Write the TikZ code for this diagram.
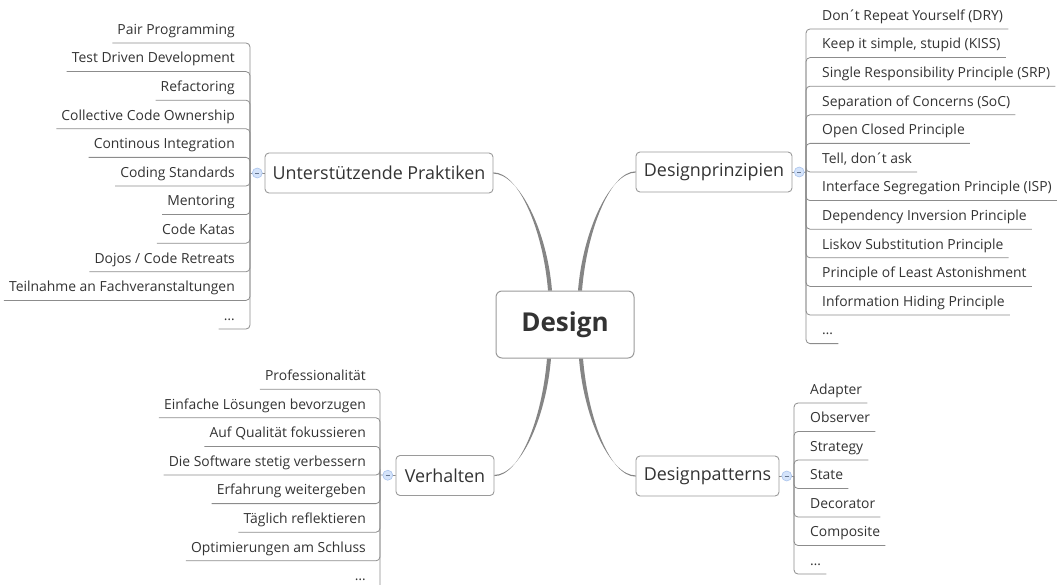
\documentclass[tikz,border=0pt]{standalone}
\usepackage{fontspec}
\setmainfont{Open Sans}
\usetikzlibrary{calc}
\definecolor{txt}{HTML}{333333}
\definecolor{ln}{HTML}{8C8C8C}
\definecolor{bx}{HTML}{9A9A9A}
\definecolor{cf}{HTML}{D4E3FA}
\definecolor{cd}{HTML}{A9C3EC}
\definecolor{cv}{HTML}{858585}
\newcommand\acc{\kern-1.2pt´\kern-1.2pt}
\begin{document}
\begin{tikzpicture}[x=1pt,y=-1pt,
  leafL/.style={anchor=south east, inner xsep=5pt, inner ysep=5.2pt, text height=10pt, text depth=3.3pt, font=\fontsize{13.9}{16}\selectfont, text=txt},
  leafR/.style={leafL, anchor=south west},
  branch/.style={draw=bx, rounded corners=4pt, line width=0.9pt, font=\fontsize{17.9}{21}\selectfont, text=txt, minimum height=40pt, inner sep=0pt},
  central/.style={draw=bx, rounded corners=6pt, line width=1pt, font=\fontsize{26}{29}\selectfont\bfseries, text=txt, minimum width=138pt, minimum height=67pt},
  link/.style={draw=ln, line width=0.8pt, rounded corners=4pt},
  hub/.style={circle, fill=cf, draw=cd, line width=0.6pt, minimum size=10pt, inner sep=0pt},
  hubmark/.style={draw=cd!60!black, line width=0.6pt},
  curve/.style={fill=cv}
]
\useasboundingbox (0,0) rectangle (1062,585);
\clip (0,0) rectangle (1062,585);

% central and branch nodes
\node[central] (d) at (565,324.5) {Design};
\node[branch, minimum width=228pt] (up) at (379,173) {Unterstützende Praktiken};
\node[branch, minimum width=156pt] (dp) at (714,172) {Designprinzipien};
\node[branch, minimum width=98pt] (vh) at (445,475.5) {Verhalten};
\node[branch, minimum width=143pt] (dpat) at (707.5,476) {Designpatterns};

% tapered curves from centre
\fill[curve] ($(d.north)+(-17,0)$) .. controls +(-5,-61) and +(25,0) .. ($(up.east)+(0,-0.6)$)
  -- ($(up.east)+(0,0.6)$) .. controls +(25,0) and +(-5,-61) .. ($(d.north)+(-13,0)$) -- cycle;
\fill[curve] ($(d.north)+(17,0)$) .. controls +(5,-61) and +(-25,0) .. ($(dp.west)+(0,-0.6)$)
  -- ($(dp.west)+(0,0.6)$) .. controls +(-25,0) and +(5,-61) .. ($(d.north)+(13,0)$) -- cycle;
\fill[curve] ($(d.south)+(-18,0)$) .. controls +(-5,61) and +(25,0) .. ($(vh.east)+(0,0.6)$)
  -- ($(vh.east)+(0,-0.6)$) .. controls +(25,0) and +(-5,61) .. ($(d.south)+(-14,0)$) -- cycle;
\fill[curve] ($(d.south)+(18,0)$) .. controls +(5,61) and +(-25,0) .. ($(dpat.west)+(0,0.6)$)
  -- ($(dpat.west)+(0,-0.6)$) .. controls +(-25,0) and +(5,61) .. ($(d.south)+(14,0)$) -- cycle;

% bars
\coordinate (ubar) at (250,173);
\coordinate (pbar) at (806,172);
\coordinate (vbar) at (380,475);
\coordinate (tbar) at (794,476);

\draw[link] (up.west) -- (ubar);
\draw[link] (dp.east) -- (pbar);
\draw[link] (vh.west) -- (vbar);
\draw[link] (dpat.east) -- (tbar);

% Unterstützende Praktiken
\foreach \t [count=\i from 0] in {Pair Programming,Test Driven Development,Refactoring,Collective Code Ownership,Continous Integration,Coding Standards,Mentoring,Code Katas,Dojos / Code Retreats,Teilnahme an Fachveranstaltungen,…}{
  \node[leafL] (u\i) at (240,43+28.6*\i) {\t};
  \draw[link] (ubar) |- (u\i.south west);
}

% Designprinzipien
\foreach \t [count=\i from 0] in {Don\acc t Repeat Yourself (DRY),{Keep it simple, stupid (KISS)},Single Responsibility Principle (SRP),Separation of Concerns (SoC),Open Closed Principle,{Tell, don\acc t ask},Interface Segregation Principle (ISP),Dependency Inversion Principle,Liskov Substitution Principle,Principle of Least Astonishment,Information Hiding Principle,…}{
  \node[leafR] (p\i) at (817,172+28.6*\i-143) {\t};
  \draw[link] (pbar) |- (p\i.south east);
}

% Verhalten
\foreach \t [count=\i from 0] in {Professionalität,Einfache Lösungen bevorzugen,Auf Qualität fokussieren,Die Software stetig verbessern,Erfahrung weitergeben,Täglich reflektieren,Optimierungen am Schluss,…}{
  \node[leafL] (v\i) at (371,475+28.6*\i-85.8) {\t};
  \draw[link] (vbar) |- (v\i.south west);
}

% Designpatterns
\foreach \t [count=\i from 0] in {Adapter,Observer,Strategy,State,Decorator,Composite,…}{
  \node[leafR] (t\i) at (805,403+28.5*\i) {\t};
  \draw[link] (tbar) |- (t\i.south east);
}

% collapse hubs
\foreach \a/\b in {up.west/ubar,dp.east/pbar,vh.west/vbar,dpat.east/tbar}{
  \node[hub] (h) at ($(\a)!0.5!(\b)$) {};
  \draw[hubmark] ($(h.center)+(-2.2,0)$) -- ($(h.center)+(2.2,0)$);
}
\end{tikzpicture}
\end{document}
